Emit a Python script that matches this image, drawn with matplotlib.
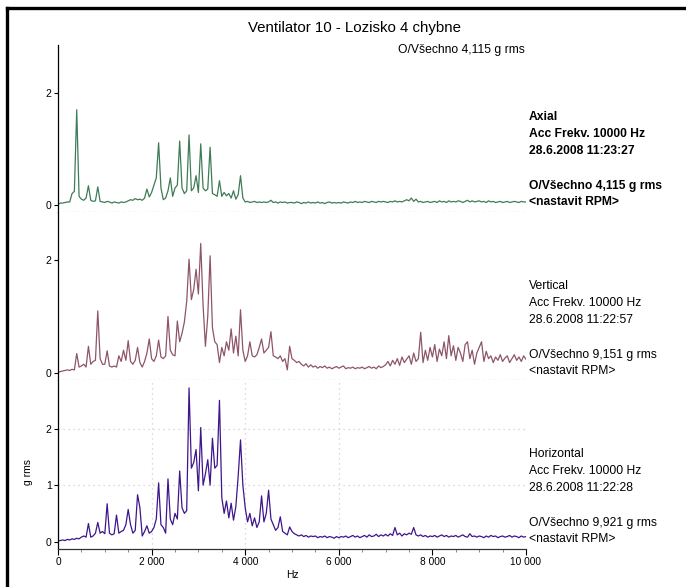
"""Vibration spectra of fan 10, bearing 4 (axial / vertical / horizontal)."""

import matplotlib

matplotlib.use("Agg")
import matplotlib.pyplot as plt
import numpy as np
from matplotlib.lines import Line2D
from matplotlib.ticker import FuncFormatter, MultipleLocator

plt.rcParams["font.family"] = ["Liberation Sans", "DejaVu Sans"]

TITLE = "Ventilator 10 - Lozisko 4 chybne"
OVERALL_TOP = "O/Všechno 4,115 g rms"

# spectrum amplitudes (g rms), read every 50 Hz from 0 to 10 000 Hz
AXIAL = [
    0.01, 0.03, 0.03, 0.04, 0.05, 0.05, 0.20, 0.24, 1.70, 0.15,
    0.10, 0.08, 0.12, 0.34, 0.08, 0.06, 0.07, 0.32, 0.06, 0.05,
    0.04, 0.06, 0.05, 0.03, 0.05, 0.04, 0.03, 0.05, 0.04, 0.05,
    0.07, 0.09, 0.08, 0.11, 0.09, 0.10, 0.08, 0.12, 0.28, 0.14,
    0.22, 0.35, 0.48, 1.11, 0.30, 0.09, 0.12, 0.25, 0.48, 0.15,
    0.30, 0.35, 1.14, 0.30, 0.20, 0.25, 1.25, 0.25, 0.30, 0.52,
    0.22, 1.09, 0.30, 0.25, 0.28, 1.03, 0.20, 0.18, 0.15, 0.43,
    0.15, 0.22, 0.16, 0.20, 0.12, 0.25, 0.10, 0.18, 0.52, 0.12,
    0.05, 0.06, 0.04, 0.05, 0.06, 0.04, 0.05, 0.04, 0.05, 0.04,
    0.05, 0.08, 0.04, 0.05, 0.03, 0.05, 0.04, 0.05, 0.03, 0.04,
    0.04, 0.03, 0.05, 0.04, 0.02, 0.04, 0.03, 0.05, 0.03, 0.04,
    0.03, 0.05, 0.03, 0.04, 0.02, 0.04, 0.05, 0.03, 0.04, 0.03,
    0.04, 0.03, 0.05, 0.04, 0.03, 0.05, 0.04, 0.06, 0.04, 0.05,
    0.04, 0.06, 0.05, 0.04, 0.06, 0.05, 0.04, 0.06, 0.05, 0.06,
    0.05, 0.04, 0.06, 0.05, 0.07, 0.05, 0.06, 0.05, 0.07, 0.09,
    0.07, 0.12, 0.06, 0.10, 0.05, 0.06, 0.04, 0.05, 0.06, 0.04,
    0.05, 0.06, 0.04, 0.07, 0.05, 0.06, 0.04, 0.07, 0.05, 0.06,
    0.05, 0.07, 0.06, 0.04, 0.06, 0.08, 0.05, 0.07, 0.05, 0.06,
    0.07, 0.05, 0.06, 0.04, 0.07, 0.05, 0.06, 0.04, 0.05, 0.06,
    0.04, 0.05, 0.06, 0.04, 0.05, 0.06, 0.05, 0.04, 0.06, 0.05,
    0.05,
]
VERTICAL = [
    0.01, 0.02, 0.03, 0.04, 0.05, 0.04, 0.06, 0.05, 0.34, 0.10,
    0.12, 0.15, 0.10, 0.47, 0.15, 0.20, 0.22, 1.10, 0.25, 0.15,
    0.15, 0.39, 0.12, 0.10, 0.12, 0.10, 0.30, 0.20, 0.40, 0.22,
    0.57, 0.20, 0.15, 0.22, 0.45, 0.18, 0.10, 0.20, 0.35, 0.60,
    0.25, 0.20, 0.30, 0.58, 0.28, 0.25, 0.30, 1.00, 0.40, 0.32,
    0.30, 0.92, 0.55, 0.70, 0.90, 1.27, 2.02, 1.30, 1.48, 1.84,
    1.40, 2.30, 1.20, 0.47, 1.00, 2.08, 0.80, 0.55, 0.50, 0.18,
    0.45, 0.30, 0.55, 0.40, 0.78, 0.35, 0.65, 0.30, 1.12, 0.40,
    0.20, 0.30, 0.55, 0.30, 0.28, 0.32, 0.45, 0.60, 0.35, 0.40,
    0.45, 0.73, 0.30, 0.28, 0.25, 0.30, 0.20, 0.25, 0.05, 0.47,
    0.25, 0.22, 0.18, 0.20, 0.15, 0.12, 0.16, 0.10, 0.14, 0.10,
    0.12, 0.08, 0.11, 0.09, 0.12, 0.08, 0.10, 0.07, 0.09, 0.11,
    0.08, 0.10, 0.12, 0.07, 0.09, 0.08, 0.10, 0.07, 0.09, 0.08,
    0.10, 0.07, 0.09, 0.11, 0.08, 0.10, 0.07, 0.12, 0.09, 0.11,
    0.14, 0.20, 0.12, 0.22, 0.15, 0.25, 0.13, 0.28, 0.18, 0.24,
    0.30, 0.15, 0.35, 0.20, 0.25, 0.72, 0.18, 0.40, 0.22, 0.45,
    0.28, 0.50, 0.20, 0.42, 0.30, 0.55, 0.25, 0.66, 0.30, 0.48,
    0.22, 0.45, 0.35, 0.20, 0.50, 0.55, 0.25, 0.40, 0.15, 0.35,
    0.45, 0.55, 0.20, 0.38, 0.25, 0.30, 0.18, 0.28, 0.22, 0.32,
    0.20, 0.26, 0.30, 0.18, 0.25, 0.32, 0.22, 0.28, 0.20, 0.30,
    0.24,
]
HORIZONTAL = [
    0.01, 0.02, 0.03, 0.02, 0.04, 0.03, 0.05, 0.04, 0.06, 0.05,
    0.08, 0.10, 0.08, 0.32, 0.08, 0.10, 0.15, 0.34, 0.15, 0.18,
    0.14, 0.67, 0.15, 0.12, 0.14, 0.47, 0.15, 0.18, 0.20, 0.30,
    0.57, 0.30, 0.15, 0.20, 0.83, 0.60, 0.10, 0.18, 0.28, 0.15,
    0.18, 0.25, 0.40, 1.04, 0.30, 0.25, 0.15, 1.11, 0.40, 0.30,
    0.50, 0.40, 1.25, 0.60, 0.50, 0.55, 2.72, 1.30, 1.40, 1.63,
    0.90, 2.02, 1.00, 1.20, 1.45, 1.00, 1.83, 1.30, 1.35, 2.50,
    0.78, 0.50, 0.72, 0.42, 0.68, 0.38, 0.62, 1.16, 1.80, 1.00,
    0.60, 0.35, 0.50, 0.28, 0.42, 0.25, 0.35, 0.81, 0.35, 0.50,
    0.91, 0.40, 0.30, 0.20, 0.25, 0.44, 0.18, 0.15, 0.12, 0.26,
    0.18, 0.14, 0.12, 0.10, 0.12, 0.09, 0.11, 0.08, 0.10, 0.09,
    0.10, 0.07, 0.09, 0.08, 0.10, 0.07, 0.09, 0.08, 0.06, 0.09,
    0.07, 0.09, 0.08, 0.10, 0.07, 0.09, 0.11, 0.08, 0.10, 0.07,
    0.09, 0.11, 0.08, 0.12, 0.09, 0.10, 0.13, 0.09, 0.12, 0.10,
    0.13, 0.10, 0.14, 0.11, 0.25, 0.12, 0.15, 0.10, 0.14, 0.12,
    0.15, 0.13, 0.25, 0.12, 0.10, 0.12, 0.09, 0.11, 0.08, 0.10,
    0.09, 0.11, 0.08, 0.10, 0.12, 0.09, 0.11, 0.08, 0.10, 0.09,
    0.11, 0.08, 0.10, 0.12, 0.09, 0.08, 0.14, 0.09, 0.10, 0.08,
    0.10, 0.09, 0.07, 0.10, 0.08, 0.11, 0.09, 0.10, 0.07, 0.09,
    0.10, 0.08, 0.09, 0.11, 0.08, 0.10, 0.09, 0.07, 0.10, 0.08,
    0.09,
]
FREQ_STEP_HZ = 50

DIRECTIONS = ["Axial", "Vertical", "Horizontal"]
TIMESTAMPS = ["28.6.2008 11:23:27", "28.6.2008 11:22:57", "28.6.2008 11:22:28"]
OVERALLS = ["4,115", "9,151", "9,921"]
COLORS = ["#3f7b57", "#8e5568", "#3e168c"]
YTICKS = [[0, 2], [0, 2], [0, 1, 2]]

W, H = 686, 587


def fx(px):
    return px / W


def fy(py):
    return 1 - py / H


fig = plt.figure(figsize=(W / 100, H / 100), dpi=100)

# thick frame on the top and left edge
fig.add_artist(Line2D([fx(6.5), 1], [fy(8), fy(8)], color="black", lw=2.4))
fig.add_artist(Line2D([fx(6.5), fx(6.5)], [fy(8), 0], color="black", lw=2.4))

fig.text(fx(354), fy(28), TITLE, ha="center", va="center", fontsize=10.8)

panel_px = [(45, 212), (212, 380), (380, 549)]
zero_px = [204, 373, 541]
spectra = [AXIAL, VERTICAL, HORIZONTAL]

for i, (top, bottom) in enumerate(panel_px):
    ax = fig.add_axes([fx(58), fy(bottom), fx(526) - fx(58), (bottom - top) / H])
    values = np.asarray(spectra[i])
    freq = np.arange(len(values)) * FREQ_STEP_HZ
    ax.plot(freq, values, color=COLORS[i], lw=0.9)
    ax.set_xlim(0, 10000)
    ax.set_ylim(-0.13, 2.86)
    ax.set_yticks(YTICKS[i])
    ax.spines["top"].set_visible(False)
    ax.spines["right"].set_visible(False)
    ax.spines["left"].set_linewidth(0.9)
    ax.tick_params(axis="y", length=3, width=0.8, labelsize=7.5, pad=1.5)
    last = i == len(panel_px) - 1
    if not last:
        ax.spines["bottom"].set_color("#c4c4c4")
        ax.spines["bottom"].set_linestyle((0, (1, 3)))
        ax.spines["bottom"].set_linewidth(0.9)
        ax.tick_params(axis="x", bottom=False, labelbottom=False)
    else:
        ax.spines["bottom"].set_color("#333333")
        ax.spines["bottom"].set_linewidth(0.9)
        ax.xaxis.set_major_locator(MultipleLocator(2000))
        ax.xaxis.set_minor_locator(MultipleLocator(500))
        ax.xaxis.set_major_formatter(
            FuncFormatter(lambda v, _: f"{int(v):,}".replace(",", " "))
        )
        ax.tick_params(axis="x", which="major", length=4, width=0.8,
                       labelsize=7.3, pad=2)
        ax.tick_params(axis="x", which="minor", length=2, width=0.6,
                       color="#777777")
        ax.grid(True, color="#cfcfcf", linestyle=(0, (1, 3)), linewidth=0.9)
        for line in ax.xaxis.get_gridlines()[::5]:
            line.set_visible(False)
        ax.yaxis.get_gridlines()[0].set_visible(False)
        ax.set_axisbelow(True)
        fig.text(fx(292), fy(575), "Hz", ha="center", va="center", fontsize=7.5)
        fig.text(fx(28), fy(472), "g rms", ha="center", va="center",
                 fontsize=7.5, rotation=90)

    zero = zero_px[i]
    weight = "bold" if i == 0 else "normal"
    info = [
        (zero - 87, DIRECTIONS[i]),
        (zero - 70, "Acc Frekv. 10000 Hz"),
        (zero - 53, TIMESTAMPS[i]),
        (zero - 18, f"O/Všechno {OVERALLS[i]} g rms"),
        (zero - 2, "<nastavit RPM>"),
    ]
    for py, text in info:
        fig.text(fx(529), fy(py), text, ha="left", va="center",
                 fontsize=8.7, fontweight=weight)

fig.text(fx(525), fy(50), OVERALL_TOP, ha="right", va="center", fontsize=8.7)

fig.savefig("out.png", dpi=100)
